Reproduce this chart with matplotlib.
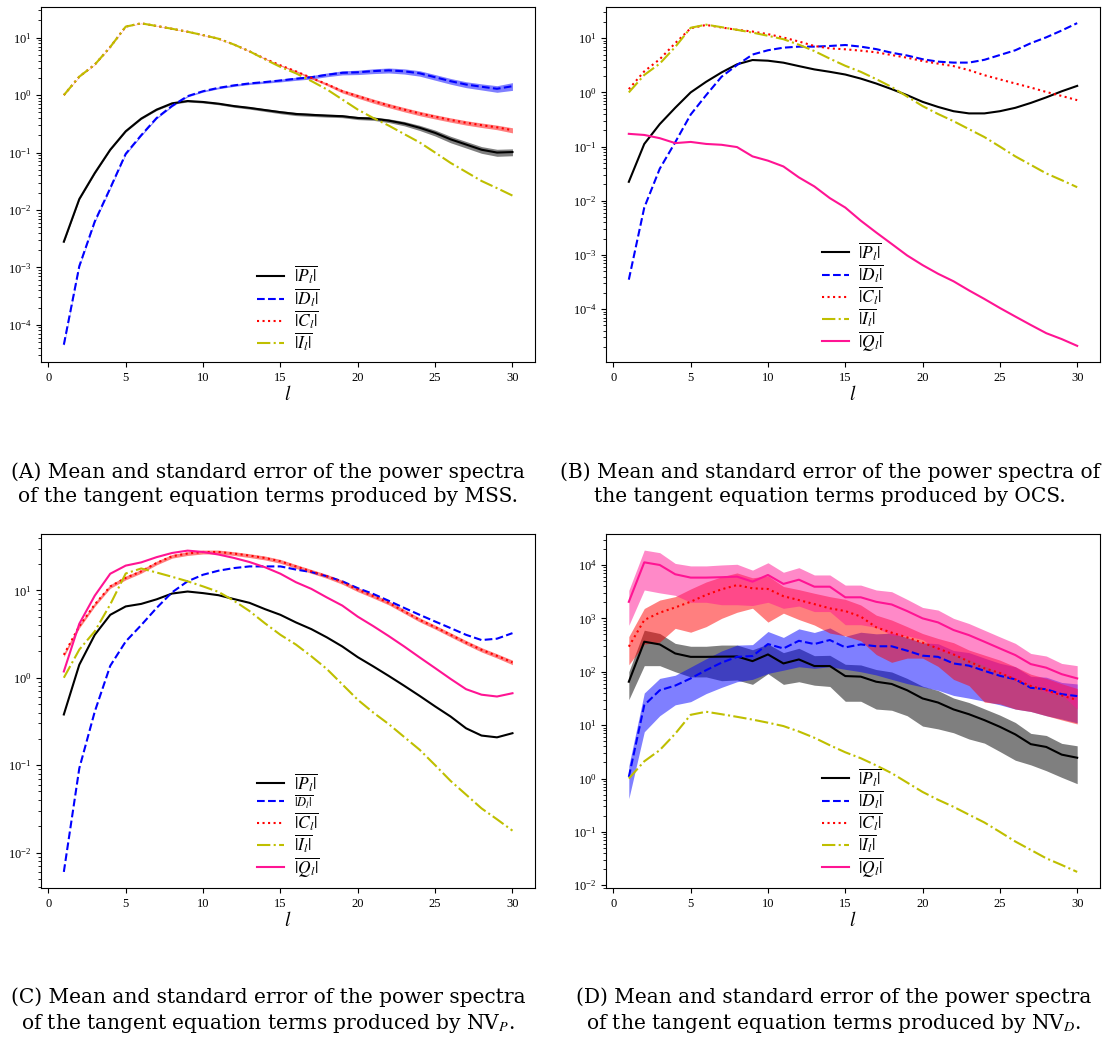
import matplotlib
matplotlib.use("Agg")
import matplotlib.pyplot as plt
import numpy as np

plt.rcParams['font.family'] = 'serif'
plt.rcParams['font.serif'] = ['Liberation Serif', 'DejaVu Serif']
plt.rcParams['mathtext.fontset'] = 'stix'

# degree l of the spectra
l = np.arange(1, 31)

# |I_l| is the same in every panel
I_term = [1.0, 2.1, 3.4, 6.9, 15.6, 17.8, 16.0, 14.3, 12.7, 11.1, 9.6, 7.6, 5.8, 4.2, 3.1,
          2.4, 1.76, 1.26, 0.84, 0.56, 0.40, 0.295, 0.21, 0.15, 0.10, 0.066, 0.046, 0.032, 0.024, 0.0178]

# (A) MSS
mss_P = [0.0028, 0.0155, 0.044, 0.112, 0.235, 0.39, 0.56, 0.72, 0.79, 0.76, 0.71, 0.645, 0.60, 0.55, 0.505,
         0.47, 0.454, 0.44, 0.43, 0.40, 0.39, 0.36, 0.32, 0.27, 0.22, 0.17, 0.138, 0.112, 0.10, 0.102]
mss_P_se = [0.0001, 0.0005, 0.0015, 0.003, 0.007, 0.012, 0.018, 0.025, 0.03, 0.03, 0.03, 0.03, 0.03, 0.03, 0.03,
            0.03, 0.028, 0.026, 0.025, 0.025, 0.026, 0.027, 0.028, 0.028, 0.026, 0.022, 0.018, 0.015, 0.014, 0.014]
mss_D = [4.5e-5, 1.05e-3, 6.3e-3, 0.024, 0.095, 0.20, 0.40, 0.65, 0.96, 1.17, 1.34, 1.48, 1.60, 1.69, 1.80,
         1.93, 2.05, 2.26, 2.45, 2.50, 2.62, 2.70, 2.60, 2.40, 2.05, 1.75, 1.53, 1.40, 1.29, 1.43]
mss_D_se = [2e-6, 3e-5, 2e-4, 7e-4, 3e-3, 6e-3, 0.012, 0.02, 0.03, 0.04, 0.05, 0.06, 0.07, 0.08, 0.1,
            0.12, 0.14, 0.17, 0.2, 0.22, 0.25, 0.27, 0.27, 0.26, 0.23, 0.2, 0.18, 0.17, 0.17, 0.22]
mss_C = [1.0, 2.1, 3.4, 6.9, 15.6, 17.8, 16.0, 14.3, 12.7, 11.1, 9.6, 7.6, 5.8, 4.3, 3.3,
         2.6, 2.0, 1.55, 1.17, 0.96, 0.79, 0.66, 0.56, 0.48, 0.42, 0.37, 0.33, 0.30, 0.275, 0.245]
mss_C_se = [0.01, 0.02, 0.03, 0.06, 0.12, 0.14, 0.13, 0.12, 0.1, 0.09, 0.08, 0.07, 0.06, 0.08, 0.08,
            0.08, 0.08, 0.08, 0.08, 0.075, 0.065, 0.055, 0.048, 0.042, 0.036, 0.032, 0.029, 0.027, 0.025, 0.025]

# (B) OCS
ocs_P = [0.0224, 0.112, 0.26, 0.52, 1.0, 1.57, 2.34, 3.3, 3.96, 3.85, 3.54, 3.06, 2.66, 2.4, 2.14,
         1.8, 1.46, 1.15, 0.89, 0.67, 0.54, 0.45, 0.41, 0.41, 0.45, 0.52, 0.64, 0.81, 1.05, 1.32]
ocs_D = [3.5e-4, 7.5e-3, 0.039, 0.12, 0.39, 0.89, 1.95, 3.2, 5.0, 6.0, 6.7, 7.0, 7.0, 7.2, 7.5,
         7.0, 6.3, 5.4, 4.8, 4.1, 3.7, 3.55, 3.55, 4.0, 4.9, 6.0, 8.1, 10.4, 13.9, 19.0]
ocs_C = [1.15, 2.45, 4.1, 8.1, 15.3, 17.6, 15.8, 14.3, 13.3, 11.9, 10.3, 8.7, 7.2, 6.5, 6.25,
         5.9, 5.5, 4.9, 4.37, 3.8, 3.4, 3.06, 2.58, 2.08, 1.74, 1.46, 1.23, 1.02, 0.86, 0.72]
ocs_Q = [0.172, 0.164, 0.143, 0.116, 0.122, 0.112, 0.108, 0.098, 0.066, 0.055, 0.043, 0.027, 0.0184, 0.0112, 0.0075,
         0.0043, 0.0026, 0.0016, 9.8e-4, 6.5e-4, 4.5e-4, 3.27e-4, 2.22e-4, 1.54e-4, 1.05e-4, 7.3e-5, 5.1e-5, 3.6e-5, 2.8e-5, 2.1e-5]

# (C) NV_P
nvp_P = [0.38, 1.41, 3.1, 5.25, 6.55, 7.0, 7.9, 9.2, 9.7, 9.3, 8.8, 7.95, 7.2, 6.1, 5.25,
         4.3, 3.6, 2.9, 2.28, 1.72, 1.35, 1.05, 0.81, 0.62, 0.47, 0.36, 0.264, 0.218, 0.208, 0.232]
nvp_D = [0.006, 0.092, 0.41, 1.37, 2.6, 4.0, 6.3, 9.5, 12.7, 15.1, 16.8, 18.0, 18.8, 18.8, 18.8,
         17.3, 16.2, 14.5, 12.7, 10.6, 9.1, 7.6, 6.3, 5.25, 4.4, 3.7, 3.1, 2.7, 2.8, 3.24]
nvp_C = [1.83, 3.9, 6.9, 11.1, 13.9, 16.5, 20.6, 24.6, 26.4, 27.5, 27.5, 26.4, 25.0, 23.5, 21.5,
         18.8, 16.5, 14.5, 12.4, 10.2, 8.6, 7.2, 5.75, 4.6, 3.8, 3.1, 2.53, 2.09, 1.78, 1.5]
nvp_C_se = [0.09, 0.2, 0.35, 0.55, 0.7, 0.8, 1.0, 1.2, 1.3, 1.4, 1.4, 1.3, 1.25, 1.2, 1.1,
            0.95, 0.85, 0.75, 0.65, 0.55, 0.45, 0.38, 0.3, 0.25, 0.2, 0.17, 0.14, 0.12, 0.1, 0.09]
nvp_Q = [1.18, 4.15, 8.7, 15.5, 19.2, 20.9, 24.0, 26.8, 28.5, 27.5, 25.7, 23.5, 21.1, 18.4, 15.5,
         12.4, 10.4, 8.3, 6.7, 5.0, 3.9, 3.0, 2.28, 1.71, 1.29, 0.97, 0.74, 0.64, 0.61, 0.665]

# (D) NV_D
nvd_P = [65, 365, 325, 220, 190, 190, 192, 193, 158, 211, 143, 170, 128, 128, 83,
         81, 65, 59, 45, 31.6, 26.5, 19.7, 16, 12.4, 9.3, 6.7, 4.4, 3.9, 2.8, 2.45]
nvd_P_se = [35, 235, 195, 120, 110, 110, 124, 123, 100, 119, 85, 105, 72, 75, 55,
            53, 45, 40, 30, 22, 18, 12.5, 10.5, 7.8, 6.1, 4.5, 2.6, 2.5, 1.75, 1.65]
nvd_D = [1.07, 23.7, 45, 55, 75, 107, 148, 190, 197, 330, 273, 380, 330, 393, 286,
         325, 300, 300, 248, 200, 190, 143, 130, 104, 84, 72, 50, 47, 38, 35]
nvd_D_se = [0.65, 16.2, 30, 31, 47.5, 68, 97, 125, 125, 237, 166, 256, 214, 269, 175,
            225, 213, 228, 188, 148, 145, 107, 98, 76, 60, 52, 32, 32, 25, 24]
nvd_C = [295, 930, 1280, 1600, 2050, 2750, 3500, 4200, 3650, 3550, 2600, 2200, 1850, 1540, 1370,
         1080, 680, 540, 440, 350, 273, 211, 155, 116, 95, 72, 54, 45, 36, 29.5]
nvd_C_se = [160, 600, 920, 950, 1500, 2050, 2500, 2900, 2100, 2700, 1350, 1250, 1100, 1010, 900,
            700, 470, 390, 260, 170, 147, 139, 100, 89, 70, 52, 36, 30, 23.5, 19]
nvd_Q = [2040, 11200, 10000, 6700, 5800, 5800, 5900, 6050, 4870, 6500, 4420, 5300, 3920, 3920, 2480,
         2480, 2040, 1820, 1370, 1000, 840, 605, 485, 365, 273, 205, 139, 119, 90, 75]
nvd_Q_se = [1300, 7800, 7000, 4000, 3800, 3800, 4100, 4250, 3130, 4500, 2880, 3600, 2580, 2580, 1720,
            1720, 1360, 1340, 900, 600, 590, 395, 315, 235, 177, 135, 81, 78, 53, 55]

lab_P = r'$\overline{|P_l|}$'
lab_D = r'$\overline{|D_l|}$'
lab_C = r'$\overline{|C_l|}$'
lab_I = r'$\overline{|I_l|}$'
lab_Q = r'$\overline{|Q_l|}$'

pink = '#ff1493'

captions = [
    "(A) Mean and standard error of the power spectra\n"
    "of the tangent equation terms produced by MSS.",
    "(B) Mean and standard error of the power spectra of\n"
    "the tangent equation terms produced by OCS.",
    "(C) Mean and standard error of the power spectra\n"
    r"of the tangent equation terms produced by NV$_P$.",
    "(D) Mean and standard error of the power spectra\n"
    r"of the tangent equation terms produced by NV$_D$.",
]


def draw_panel(ax, series, small_label=None):
    for mean, se, style, color, label in series:
        ax.plot(l, mean, style, color=color, label=label, linewidth=1.5)
        if se is not None:
            m = np.array(mean)
            s = np.array(se)
            ax.fill_between(l, m - s, m + s, color=color, alpha=0.5, linewidth=0)
    ax.set_yscale('log')
    ax.set_xlabel('$l$', fontsize=14, labelpad=1)
    ax.tick_params(labelsize=9)
    leg = ax.legend(loc='lower center', frameon=False, fontsize=12.5,
                    handlelength=1.55, handletextpad=0.55, labelspacing=0.0,
                    borderaxespad=0.1)
    if small_label is not None:
        leg.get_texts()[small_label].set_fontsize(9)


fig = plt.figure(figsize=(11.03, 10.44), dpi=100)
W, H = 1103.0, 1044.0

ax_a = fig.add_axes([41.4 / W, 1 - 362 / H, 493.5 / W, 355 / H])
ax_b = fig.add_axes([606.4 / W, 1 - 362 / H, 493.2 / W, 355 / H])
ax_c = fig.add_axes([41.4 / W, 1 - 888 / H, 493.5 / W, 354 / H])
ax_d = fig.add_axes([606.4 / W, 1 - 888 / H, 493.2 / W, 354 / H])

draw_panel(ax_a, [
    (mss_P, mss_P_se, '-', 'k', lab_P),
    (mss_D, mss_D_se, '--', 'b', lab_D),
    (mss_C, mss_C_se, ':', 'r', lab_C),
    (I_term, None, '-.', 'y', lab_I),
])
draw_panel(ax_b, [
    (ocs_P, None, '-', 'k', lab_P),
    (ocs_D, None, '--', 'b', lab_D),
    (ocs_C, None, ':', 'r', lab_C),
    (I_term, None, '-.', 'y', lab_I),
    (ocs_Q, None, '-', pink, lab_Q),
])
draw_panel(ax_c, [
    (nvp_P, None, '-', 'k', lab_P),
    (nvp_D, None, '--', 'b', lab_D),
    (nvp_C, nvp_C_se, ':', 'r', lab_C),
    (I_term, None, '-.', 'y', lab_I),
    (nvp_Q, None, '-', pink, lab_Q),
], small_label=1)
draw_panel(ax_d, [
    (nvd_P, nvd_P_se, '-', 'k', lab_P),
    (nvd_D, nvd_D_se, '--', 'b', lab_D),
    (nvd_C, nvd_C_se, ':', 'r', lab_C),
    (I_term, None, '-.', 'y', lab_I),
    (nvd_Q, nvd_Q_se, '-', pink, lab_Q),
])

# captions under each panel (centre of the two-line block)
cap_pos = [(268, 484), (830, 484), (268, 1011), (834, 1011)]
for (x, y), text in zip(cap_pos, captions):
    fig.text(x / W, 1 - y / H, text, ha='center', va='center', ma='center',
             fontsize=14.5, linespacing=1.3, family='DejaVu Serif')

fig.savefig('out.png', dpi=100)
